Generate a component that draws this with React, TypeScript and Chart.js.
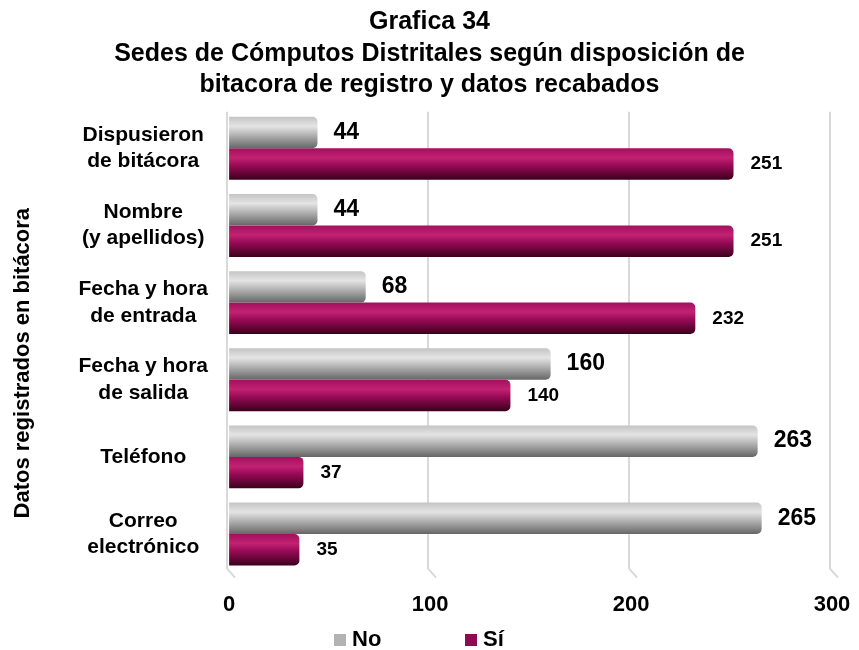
import React, { useEffect, useRef } from 'react';
import { Chart, registerables } from 'chart.js';

Chart.register(...registerables);

const categories: string[][] = [
  ['Dispusieron', 'de bitácora'],
  ['Nombre', '(y apellidos)'],
  ['Fecha y hora', 'de entrada'],
  ['Fecha y hora', 'de salida'],
  ['Teléfono'],
  ['Correo', 'electrónico'],
];
const noValues = [44, 44, 68, 160, 263, 265];
const siValues = [251, 251, 232, 140, 37, 35];
const seriesNames = ['No', 'Sí'];
const xMin = 0;
const xMax = 300;
const xStep = 100;
const titleLines = [
  'Grafica 34',
  'Sedes de Cómputos Distritales según disposición de',
  'bitacora de registro y datos recabados',
];
const yAxisTitle = 'Datos registrados en bitácora';

const FONT = "'Liberation Sans', Arial, Helvetica, sans-serif";
const CAT_PCT = 0.816;

const grayStops: [number, string][] = [
  [0, '#c4c4c4'],
  [0.3, '#e4e4e4'],
  [0.55, '#b8b8b8'],
  [1, '#666666'],
];
const maroonStops: [number, string][] = [
  [0, '#a2105e'],
  [0.3, '#c22272'],
  [0.55, '#970a55'],
  [1, '#3a001c'],
];
const solidColors = ['#b3b3b3', '#8e0a52'];
const legendColors = ['#b3b3b3', '#8e0a52'];

function gradientFor(datasetIndex: number, stops: [number, string][]) {
  return (ctx: any) => {
    const chart = ctx.chart;
    const area = chart.chartArea;
    const yScale = chart.scales?.y;
    if (!area || !yScale || ctx.dataIndex === undefined) return solidColors[datasetIndex];
    const center = yScale.getPixelForValue(ctx.dataIndex);
    const catW = (area.bottom - area.top) / categories.length;
    const t = (catW * CAT_PCT) / 2;
    const top = datasetIndex === 0 ? center - t : center;
    if (!isFinite(top)) return solidColors[datasetIndex];
    const g = chart.ctx.createLinearGradient(0, top, 0, top + t);
    stops.forEach(([o, c]) => g.addColorStop(o, c));
    return g;
  };
}

const gridPlugin = {
  id: 'gridPlugin',
  beforeDatasetsDraw(chart: any) {
    const { ctx, chartArea: a, scales } = chart;
    const x = scales.x;
    ctx.save();
    ctx.strokeStyle = '#d9d9d9';
    ctx.lineWidth = 2;
    x.ticks.forEach((t: any) => {
      const px = x.getPixelForValue(t.value);
      ctx.beginPath();
      ctx.moveTo(px - 2, a.top + 2);
      ctx.lineTo(px - 2, a.bottom - 4);
      ctx.lineTo(px + 6, a.bottom + 5);
      ctx.stroke();
    });
    ctx.restore();
  },
};

const labelPlugin = {
  id: 'labelPlugin',
  afterDatasetsDraw(chart: any) {
    const { ctx } = chart;
    const cfg = [
      { size: 23, off: 16 },
      { size: 19, off: 17 },
    ];
    ctx.save();
    ctx.fillStyle = '#000';
    ctx.textAlign = 'left';
    ctx.textBaseline = 'middle';
    chart.data.datasets.forEach((ds: any, i: number) => {
      const meta = chart.getDatasetMeta(i);
      ctx.font = `bold ${cfg[i].size}px ${FONT}`;
      meta.data.forEach((el: any, j: number) => {
        ctx.fillText(String(ds.data[j]), el.x + cfg[i].off, el.y);
      });
    });
    ctx.restore();
  },
};

const yTitlePlugin = {
  id: 'yTitlePlugin',
  afterDraw(chart: any) {
    const { ctx, chartArea: a } = chart;
    ctx.save();
    ctx.translate(23, (a.top + a.bottom) / 2 + 22);
    ctx.rotate(-Math.PI / 2);
    ctx.font = `bold 22px ${FONT}`;
    ctx.fillStyle = '#000';
    ctx.textAlign = 'center';
    ctx.textBaseline = 'middle';
    ctx.fillText(yAxisTitle, 0, 0);
    ctx.restore();
  },
};

const legendPlugin = {
  id: 'customLegend',
  afterDraw(chart: any) {
    const { ctx } = chart;
    const cx = chart.width / 2;
    const y = 640;
    const items = [
      { text: seriesNames[0], color: legendColors[0], x: cx - 95.5 },
      { text: seriesNames[1], color: legendColors[1], x: cx + 35.5 },
    ];
    ctx.save();
    ctx.font = `bold 22px ${FONT}`;
    ctx.textBaseline = 'middle';
    ctx.textAlign = 'left';
    items.forEach((it) => {
      ctx.fillStyle = it.color;
      ctx.fillRect(it.x, y - 6, 12, 12);
      ctx.fillStyle = '#000';
      ctx.fillText(it.text, it.x + 18, y);
    });
    ctx.restore();
  },
};

export default function App() {
  const ref = useRef<HTMLCanvasElement | null>(null);
  useEffect(() => {
    document.body.style.margin = '0';
    if (!ref.current) return;
    const chart = new Chart(ref.current, {
      type: 'bar',
      data: {
        labels: categories as any,
        datasets: [
          {
            label: seriesNames[0],
            data: noValues,
            backgroundColor: gradientFor(0, grayStops) as any,
            categoryPercentage: CAT_PCT,
            barPercentage: 1,
            borderRadius: 5,
            borderSkipped: 'start',
          },
          {
            label: seriesNames[1],
            data: siValues,
            backgroundColor: gradientFor(1, maroonStops) as any,
            categoryPercentage: CAT_PCT,
            barPercentage: 1,
            borderRadius: 5,
            borderSkipped: 'start',
          },
        ],
      },
      options: {
        indexAxis: 'y',
        responsive: false,
        animation: false,
        layout: { padding: { left: 6, right: 6, top: 0, bottom: 13 } },
        scales: {
          x: {
            min: xMin,
            max: xMax,
            afterFit: (s: any) => {
              s.paddingRight = 27;
              s.paddingLeft = 0;
            },
            ticks: {
              stepSize: xStep,
              padding: 19,
              color: '#000',
              maxRotation: 0,
              font: { family: FONT, size: 22, weight: 'bold' },
            },
            grid: { display: false, drawTicks: false },
            border: { display: false },
          },
          y: {
            afterFit: (s: any) => {
              s.width = s.width + 51.5;
            },
            ticks: {
              crossAlign: 'center',
              padding: 21,
              color: '#000',
              font: { family: FONT, size: 21, weight: 'bold', lineHeight: 1.25 },
            },
            grid: { display: false, drawTicks: false },
            border: { display: false },
          },
        },
        plugins: {
          legend: { display: false },
          tooltip: { enabled: false },
          title: {
            display: true,
            text: titleLines,
            color: '#000',
            font: { family: FONT, size: 25, weight: 'bold', lineHeight: 1.27 },
            padding: { top: 6, bottom: 8.5 },
          },
        },
      },
      plugins: [gridPlugin, labelPlugin, yTitlePlugin, legendPlugin],
    } as any);
    return () => chart.destroy();
  }, []);
  return (
    <div style={{ width: 859, height: 650 }}>
      <canvas ref={ref} width={859} height={650} />
    </div>
  );
}
